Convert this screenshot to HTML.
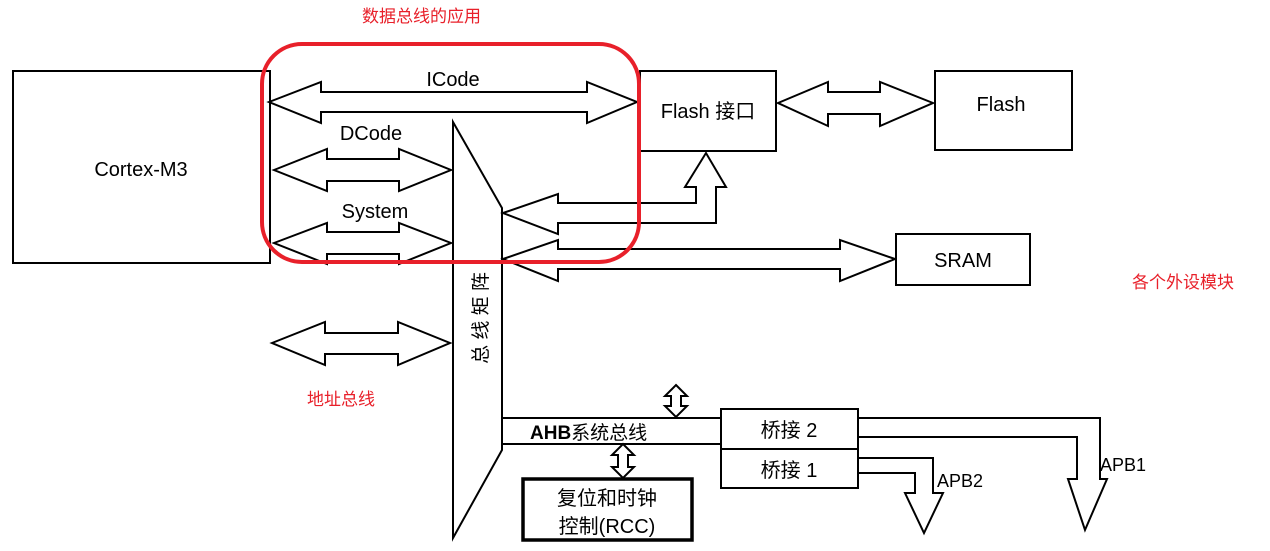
<!DOCTYPE html>
<html><head><meta charset="utf-8"><style>
html,body{margin:0;padding:0;background:#fff;}
svg{display:block;}
text{font-family:"Liberation Sans","Noto Sans CJK SC",sans-serif;}
</style></head><body>
<svg width="1270" height="551" viewBox="0 0 1270 551" xmlns="http://www.w3.org/2000/svg">
<g fill="#fff" stroke="#000" stroke-width="2" stroke-linejoin="miter">
<!-- Cortex box -->
<rect x="13" y="71" width="257" height="192"/>
<!-- ICode -->
<polygon points="269,102 321,82 321,92 587,92 587,82 637,102 587,123 587,112 321,112 321,123"/>
<!-- DCode -->
<polygon points="274,170 327,149 327,159 399,159 399,149 451,170 399,191 399,181 327,181 327,191"/>
<!-- System -->
<polygon points="274,243 327,223 327,232 399,232 399,223 451,243 399,264 399,254 327,254 327,264"/>
<!-- Address bus -->
<polygon points="272,343 325,322 325,333 398,333 398,322 450,343 398,365 398,354 325,354 325,365"/>
<!-- bus matrix -->
<polygon points="453,122 502,208 502,450 453,538"/>
<!-- Flash iface -->
<rect x="640" y="71" width="136" height="80"/>
<rect x="935" y="71" width="137" height="79"/>
<polygon points="778,103 828,82 828,92 880,92 880,82 933,103 880,126 880,114 828,114 828,126"/>
<!-- feedback arrow -->
<polygon points="503,213 558,194 558,203 696,203 696,187 685,187 706,153 726,187 716,187 716,223 558,223 558,234"/>
<!-- SRAM arrow -->
<polygon points="503,259 558,240 558,249 840,249 840,240 895,259 840,281 840,269 558,269 558,281"/>
<rect x="896" y="234" width="134" height="51"/>
<!-- AHB lines -->
<line x1="502" y1="418" x2="721" y2="418"/>
<line x1="502" y1="444" x2="721" y2="444"/>
<!-- small vertical arrows -->
<polygon points="676,385 687,396 681,396 681,406 687,406 676,417 665,406 671,406 671,396 665,396"/>
<polygon points="623,444 634,455 628,455 628,467 634,467 623,478 612,467 618,467 618,455 612,455"/>
<!-- RCC -->
<rect x="523" y="479" width="169" height="61" stroke-width="3.5"/>
<!-- bridges -->
<rect x="721" y="409" width="137" height="40"/>
<rect x="721" y="449" width="137" height="39"/>
<!-- APB1 -->
<polyline fill="none" points="858,418 1100,418 1100,479 1107,479 1085,530 1068,479 1077,479 1077,437 858,437"/>
<!-- APB2 -->
<polyline fill="none" points="858,458 933,458 933,493 943,493 924,533 905,493 915,493 915,473 858,473"/>
</g>
<rect x="262" y="44" width="377" height="218" rx="40" ry="40" fill="none" stroke="#e8202a" stroke-width="4"/>
<g font-size="20" fill="#000">
<text x="141" y="176" text-anchor="middle">Cortex-M3</text>
<text x="453" y="86" text-anchor="middle">ICode</text>
<text x="371" y="140" text-anchor="middle">DCode</text>
<text x="375" y="218" text-anchor="middle">System</text>
<text x="708" y="118" text-anchor="middle">Flash 接口</text>
<text x="1001" y="111" text-anchor="middle">Flash</text>
<text x="963" y="267" text-anchor="middle">SRAM</text>
<text transform="translate(487,318) rotate(-90)" text-anchor="middle" font-size="19">总 线 矩 阵</text>
<text x="530" y="439" font-size="19"><tspan font-weight="bold">AHB</tspan>系统总线</text>
<text x="789" y="437" text-anchor="middle">桥接 2</text>
<text x="789" y="477" text-anchor="middle">桥接 1</text>
<text x="607" y="505" text-anchor="middle">复位和时钟</text>
<text x="607" y="533" text-anchor="middle">控制(RCC)</text>
<text x="937" y="487" font-size="18">APB2</text>
<text x="1100" y="471" font-size="18">APB1</text>
</g>
<g font-size="17" fill="#e8202a">
<text x="362" y="22">数据总线的应用</text>
<text x="1132" y="288">各个外设模块</text>
<text x="307" y="405">地址总线</text>
</g>
</svg>
</body></html>
